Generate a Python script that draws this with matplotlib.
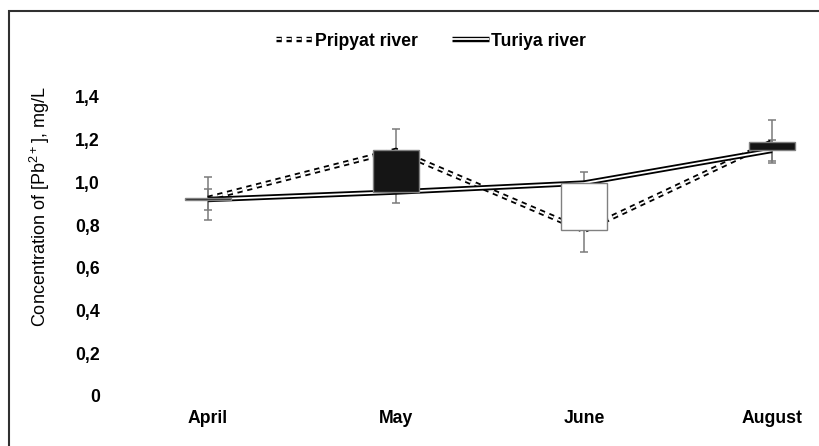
import matplotlib
matplotlib.use("Agg")
import matplotlib.pyplot as plt
from matplotlib.patches import Rectangle
import numpy as np

plt.rcParams['font.family'] = ['Liberation Sans', 'DejaVu Sans']
plt.rcParams['mathtext.default'] = 'regular'
plt.rcParams['lines.scale_dashes'] = False

# ── data ─────────────────────────────────────────────────────────────
months = ["April", "May", "June", "August"]
pripyat = [0.925, 1.15, 0.775, 1.19]
turiya = [0.92, 0.955, 0.997, 1.15]
pripyat_err = [0.10, 0.10, 0.10, 0.10]
turiya_err = [0.05, 0.05, 0.05, 0.05]
y_ticks = [0, 0.2, 0.4, 0.6, 0.8, 1.0, 1.2, 1.4]
y_labels = ["0", "0,2", "0,4", "0,6", "0,8", "1,0", "1,2", "1,4"]

W, H = 819, 446
fig = plt.figure(figsize=(W / 100, H / 100), dpi=100)
ax = fig.add_axes([106 / W, 50 / H, 706 / W, 299 / H])
x = np.arange(len(months))

# error bars (grey, behind everything)
ax.errorbar(x, pripyat, yerr=pripyat_err, fmt='none', ecolor='#7a7a7a',
            elinewidth=1.1, capsize=3, capthick=1.1, zorder=1)
ax.errorbar(x, turiya, yerr=turiya_err, fmt='none', ecolor='#7a7a7a',
            elinewidth=1.1, capsize=3, capthick=1.1, zorder=1)


def double_line(xs, ys, dashed, z):
    ls = (0, (3.8, 3.4)) if dashed else '-'
    kw = dict(ls=ls, solid_capstyle='butt', dash_capstyle='butt')
    outer, = ax.plot(xs, ys, color='black', lw=3.9, zorder=z, **kw)
    inner, = ax.plot(xs, ys, color='white', lw=1.3, zorder=z + 0.1, **kw)
    return (outer, inner)


h_prip = double_line(x, pripyat, True, 2)
h_tur = double_line(x, turiya, False, 2.5)

# up/down bars between the two series
p = np.array(pripyat)
t = np.array(turiya)
low = np.minimum(p, t)
high = np.maximum(p, t)
colors = ['#151515' if a > b else 'white' for a, b in zip(p, t)]
ax.bar(x, high - low, bottom=low, width=0.245, color=colors,
       edgecolor='#808080', linewidth=1.0, zorder=3)

ax.set_ylim(0, 1.4)
ax.set_xlim(-0.5426, 3.213)
ax.set_yticks(y_ticks)
ax.set_yticklabels(y_labels, fontsize=12.7, fontweight='bold')
ax.set_xticks(x)
ax.set_xticklabels(months, fontsize=12.7, fontweight='bold')
ax.tick_params(axis='both', length=0)
ax.tick_params(axis='y', pad=4.5)
ax.tick_params(axis='x', pad=10)
for s in ax.spines.values():
    s.set_visible(False)

fig.text(40 / W, 1 - 207 / H, 'Concentration of [Pb$^{2+}$], mg/L',
         rotation=90, ha='center', va='center', fontsize=13)

fig.legend([h_prip, h_tur], ["Pripyat river", "Turiya river"],
           loc='center', bbox_to_anchor=(431 / W, 1 - 41 / H), ncol=2,
           frameon=False, handlelength=2.1, handletextpad=0.15,
           columnspacing=1.9, prop={'size': 12.7, 'weight': 'bold'})

# outer frame of the chart object
fig.add_artist(Rectangle((8.5 / W, -0.1), 1.2, 1.1 - 11 / H,
                         transform=fig.transFigure, fill=False,
                         edgecolor='#303030', linewidth=1.5))

fig.savefig("out.png", dpi=100)
